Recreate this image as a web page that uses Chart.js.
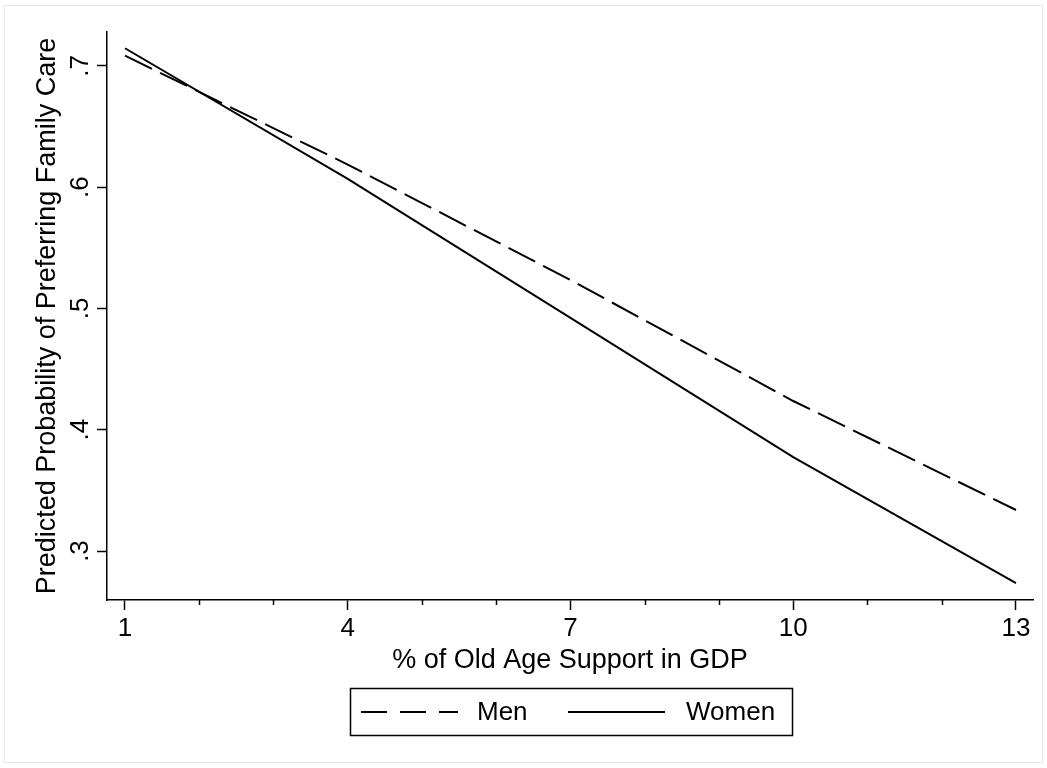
<!DOCTYPE html>
<html>
<head>
<meta charset="utf-8">
<script src="https://cdn.jsdelivr.net/npm/chart.js@4/dist/chart.umd.min.js"></script>
<style>
  html, body { margin: 0; padding: 0; background: #fff; }
  #wrap { width: 1047px; height: 768px; }
</style>
</head>
<body>
<div id="wrap"><canvas id="c" width="1047" height="768"></canvas></div>
<script>
// Share of old age support in GDP (%) at which predictions are evaluated
const supportLevels = [1, 4, 7, 10, 13];
// Predicted probability of preferring family care
const menProb   = [0.7085, 0.6187, 0.5235, 0.4237, 0.3338];
const womenProb = [0.7146, 0.6068, 0.4922, 0.3775, 0.2736];
// Axis ticks
const xMajorTicks = [1, 4, 7, 10, 13];
const xMinorTicks = [2, 3, 5, 6, 8, 9, 11, 12];
const yTicks = [0.3, 0.4, 0.5, 0.6, 0.7];

const FONT = 'Liberation Sans, Arial, Helvetica, sans-serif';
const toPoints = (xs, ys) => xs.map((x, i) => ({ x: x, y: ys[i] }));

// White page with a faint outer frame
const backdrop = {
  id: 'backdrop',
  beforeDraw(chart) {
    const ctx = chart.ctx;
    ctx.save();
    ctx.fillStyle = '#ffffff';
    ctx.fillRect(0, 0, chart.width, chart.height);
    ctx.strokeStyle = '#e3e9ee';
    ctx.lineWidth = 1;
    ctx.strokeRect(4.5, 5.5, chart.width - 9, chart.height - 11);
    ctx.restore();
  }
};

// Short unlabeled ticks between the labeled x ticks
const minorTicks = {
  id: 'minorTicks',
  afterDraw(chart) {
    const sx = chart.scales.x;
    const y0 = chart.chartArea.bottom;
    const ctx = chart.ctx;
    ctx.save();
    ctx.strokeStyle = '#000';
    ctx.lineWidth = 1.5;
    ctx.beginPath();
    xMinorTicks.forEach(v => {
      const px = Math.round(sx.getPixelForValue(v)) + 0.5;
      ctx.moveTo(px, y0);
      ctx.lineTo(px, y0 + 5);
    });
    ctx.stroke();
    ctx.restore();
  }
};

// Boxed legend with line samples
const boxedLegend = {
  id: 'boxedLegend',
  afterDraw(chart) {
    const ctx = chart.ctx;
    const box = { x: 350.5, y: 688.5, w: 442, h: 47 };
    const cy = box.y + box.h / 2;
    ctx.save();
    ctx.strokeStyle = '#000';
    ctx.lineWidth = 1.5;
    ctx.strokeRect(box.x, box.y, box.w, box.h);
    const items = [
      { ds: chart.data.datasets[0], x0: 361, x1: 458, tx: 477, dash: [26, 13] },
      { ds: chart.data.datasets[1], x0: 568, x1: 665, tx: 686, dash: [] }
    ];
    items.forEach(it => {
      ctx.setLineDash(it.dash);
      ctx.lineWidth = 2;
      ctx.beginPath();
      ctx.moveTo(it.x0, cy);
      ctx.lineTo(it.x1, cy);
      ctx.stroke();
      ctx.setLineDash([]);
      ctx.fillStyle = '#000';
      ctx.font = '26px ' + FONT;
      ctx.textBaseline = 'middle';
      ctx.textAlign = 'left';
      ctx.fillText(it.ds.label, it.tx, cy + 1);
    });
    ctx.restore();
  }
};

new Chart(document.getElementById('c'), {
  type: 'line',
  data: {
    datasets: [
      {
        label: 'Men',
        data: toPoints(supportLevels, menProb),
        borderColor: '#000',
        borderWidth: 2,
        borderDash: [30, 9],
        pointRadius: 0,
        tension: 0,
        fill: false
      },
      {
        label: 'Women',
        data: toPoints(supportLevels, womenProb),
        borderColor: '#000',
        borderWidth: 2,
        pointRadius: 0,
        tension: 0,
        fill: false
      }
    ]
  },
  options: {
    responsive: false,
    animation: false,
    devicePixelRatio: 1,
    layout: { padding: { top: 32, right: 14, left: 0, bottom: 0 } },
    plugins: {
      legend: { display: false },
      tooltip: { enabled: false },
      title: { display: false }
    },
    scales: {
      x: {
        type: 'linear',
        min: 0.7576,
        max: 13.229,
        afterBuildTicks(scale) { scale.ticks = xMajorTicks.map(v => ({ value: v })); },
        afterFit(scale) {
          scale.height = 168;
          scale.paddingLeft = 0; scale.paddingRight = 0;
        },
        ticks: {
          color: '#000',
          font: { family: FONT, size: 26 },
          padding: 3,
          maxRotation: 0,
          minRotation: 0,
          autoSkip: false
        },
        grid: {
          drawOnChartArea: false,
          drawTicks: true,
          tickLength: 10,
          tickColor: '#000',
          tickWidth: 1.5
        },
        border: { display: true, color: '#000', width: 1.5 },
        title: {
          display: true,
          text: '% of Old Age Support in GDP',
          color: '#000',
          font: { family: FONT, size: 27 },
          padding: { top: 0, bottom: 91 }
        }
      },
      y: {
        type: 'linear',
        min: 0.2596,
        max: 0.728,
        afterBuildTicks(scale) { scale.ticks = yTicks.map(v => ({ value: v })); },
        afterFit(scale) {
          scale.width = 107;
          scale.paddingTop = 0; scale.paddingBottom = 0;
        },
        ticks: {
          color: '#000',
          font: { family: FONT, size: 26 },
          padding: 5,
          minRotation: 90,
          maxRotation: 90,
          crossAlign: 'center',
          autoSkip: false,
          callback: v => v.toFixed(1).replace(/^0/, '')
        },
        grid: {
          drawOnChartArea: false,
          drawTicks: true,
          tickLength: 10,
          tickColor: '#000',
          tickWidth: 1.5
        },
        border: { display: true, color: '#000', width: 1.5 },
        title: {
          display: true,
          text: 'Predicted Probability of Preferring Family Care',
          color: '#000',
          font: { family: FONT, size: 27 },
          padding: { top: 31, bottom: 0 }
        }
      }
    }
  },
  plugins: [backdrop, minorTicks, boxedLegend]
});
</script>
</body>
</html>
